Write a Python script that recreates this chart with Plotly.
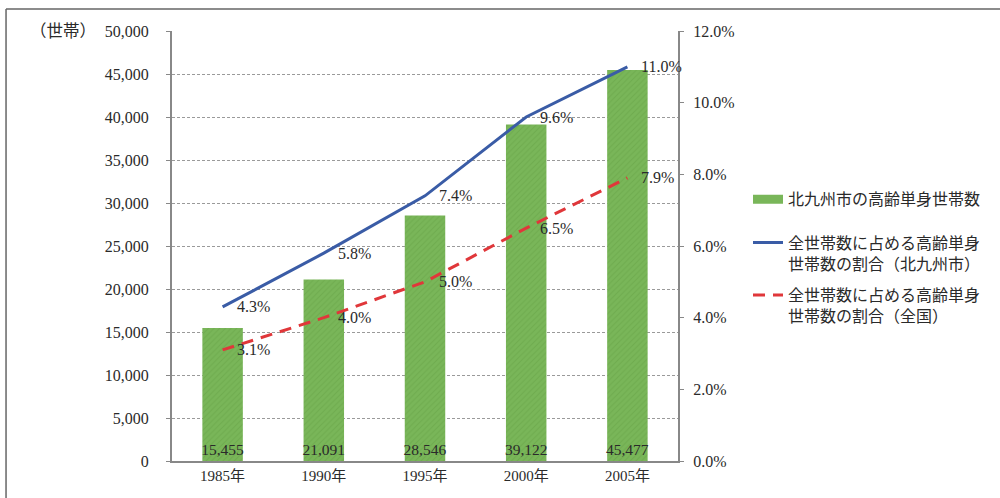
import plotly.graph_objects as go

years = ["1985年", "1990年", "1995年", "2000年", "2005年"]
households = [15455, 21091, 28546, 39122, 45477]
share_city = [0.043, 0.058, 0.074, 0.096, 0.110]
share_nation = [0.031, 0.040, 0.050, 0.065, 0.079]

left_ticks = list(range(0, 50001, 5000))
right_ticks = [0, 0.02, 0.04, 0.06, 0.08, 0.10, 0.12]

FONT = "Liberation Serif, Noto Sans CJK JP, serif"
TXT = "#2a2a2a"
GREEN = "#79b659"
BLUE = "#3a5ca6"
RED = "#e0373a"

fig = go.Figure()

fig.add_trace(go.Bar(
    x=years, y=households, name="北九州市の高齢単身世帯数", showlegend=False,
    marker=dict(color=GREEN, line=dict(width=0),
                pattern=dict(shape="/", fgcolor="#64a246", size=4, solidity=0.25, fillmode="overlay")),
    text=[f"{v:,}" for v in households], textposition="inside", insidetextanchor="start",
    constraintext="none", textangle=0,
    textfont=dict(family=FONT, size=15.5, color=TXT),
))
# legend entry for the bars (wide rectangle swatch like the original)
fig.add_trace(go.Scatter(
    x=[None], y=[None], mode="lines", name="北九州市の高齢単身世帯数",
    line=dict(color=GREEN, width=9), legend="legend",
))

fig.add_trace(go.Scatter(
    x=years, y=share_city, yaxis="y2", mode="lines",
    name="全世帯数に占める高齢単身<br>世帯数の割合（北九州市）",
    line=dict(color=BLUE, width=3), legend="legend2", legendgroup="b",
))

fig.add_trace(go.Scatter(
    x=years, y=share_nation, yaxis="y2", mode="lines",
    name="全世帯数に占める高齢単身<br>世帯数の割合（全国）",
    line=dict(color=RED, width=3, dash="12px,8px"), legend="legend2", legendgroup="c",
))

for series in (share_city, share_nation):
    for xv, yv in zip(years, series):
        fig.add_annotation(x=xv, y=yv, xref="x", yref="y2", text=f"{yv*100:.1f}%",
                           xanchor="left", yanchor="middle", xshift=12, showarrow=False,
                           font=dict(family=FONT, size=16, color=TXT))

legend_common = dict(xref="container", yref="container", x=0.748, xanchor="left", yanchor="top",
                     font=dict(size=16, family=FONT, color=TXT), valign="top",
                     bgcolor="rgba(0,0,0,0)", itemwidth=30)

fig.update_layout(
    width=1000, height=498,
    margin=dict(l=172, r=322, t=31, b=37),
    paper_bgcolor="white", plot_bgcolor="white",
    font=dict(family=FONT, size=15, color=TXT),
    bargap=0.6,
    showlegend=True,
    legend=dict(y=0.634, **legend_common),
    legend2=dict(y=0.547, tracegroupgap=8, **legend_common),
    xaxis=dict(type="category", showgrid=False, showline=True, linecolor="#888", linewidth=2,
               ticks="", tickfont=dict(size=15, family=FONT), range=[-0.5, 4.5]),
    yaxis=dict(range=[0, 50000], tickvals=left_ticks, tickformat=",", showgrid=True,
               gridcolor="#9a9a9a", griddash="3px,2px", gridwidth=1,
               showline=True, linecolor="#888", linewidth=2, ticks="outside", ticklen=4,
               tickcolor="#888", tickfont=dict(size=16, family=FONT), ticklabelstandoff=14,
               zeroline=False),
    yaxis2=dict(range=[0, 0.12], tickvals=right_ticks, tickformat=".1%", overlaying="y", side="right",
                showgrid=False, showline=True, linecolor="#888", linewidth=2, ticks="outside",
                ticklen=4, tickcolor="#888", tickfont=dict(size=16, family=FONT), ticklabelstandoff=6,
                zeroline=False),
)

fig.add_annotation(text="（世帯）", xref="paper", yref="paper", x=-0.215, y=1.0,
                   xanchor="center", yanchor="middle", showarrow=False,
                   font=dict(size=16.5, family=FONT, color=TXT))

# outer frame lines (top and left)
fig.add_shape(type="line", xref="paper", yref="paper", x0=-0.328, x1=1.64, y0=1.051, y1=1.051,
              line=dict(color="#666", width=1.5))
fig.add_shape(type="line", xref="paper", yref="paper", x0=-0.328, x1=-0.328, y0=1.051, y1=-0.1,
              line=dict(color="#666", width=1.5))

fig.write_html("out.html")
